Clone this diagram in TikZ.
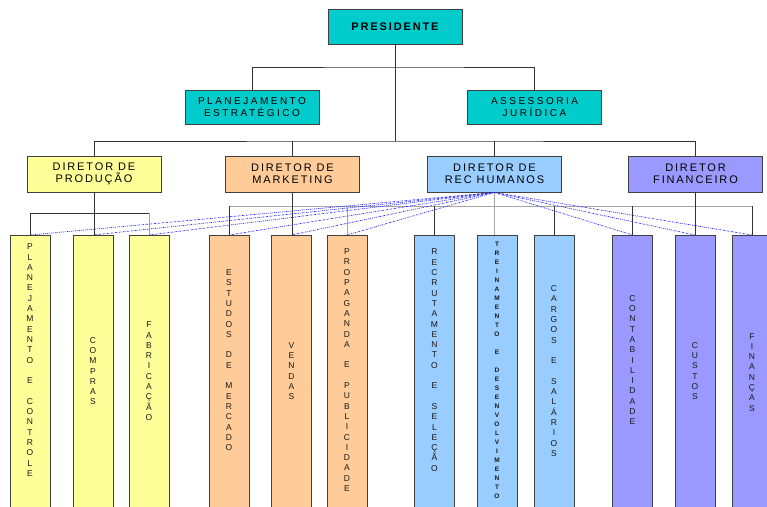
\documentclass[tikz,border=0pt]{standalone}
\usepackage{fontspec}
\setmainfont{Liberation Sans}
\newfontfamily\dirFont[LetterSpace=17]{Liberation Sans}
\newfontfamily\staffFont[LetterSpace=25]{Liberation Sans}
\definecolor{presCol}{RGB}{0,204,204}
\definecolor{prodCol}{RGB}{255,255,153}
\definecolor{mktCol}{RGB}{255,204,153}
\definecolor{rhCol}{RGB}{153,204,255}
\definecolor{finCol}{RGB}{153,153,255}
% letras empilhadas na vertical
\ExplSyntaxOn
\NewDocumentCommand\vtext{O{10.3pt}m}
  {
    \vbox
      {
        \offinterlineskip
        \str_map_inline:nn {#2}
          { \hbox_to_wd:nn {1em} { \hss \vrule height0.8\dimexpr#1\relax depth0.2\dimexpr#1\relax width0pt\relax ##1 \hss } }
      }
  }
\ExplSyntaxOff
\tikzset{
  box/.style={draw=black!75, line width=0.9pt, minimum width=134pt, minimum height=35pt, inner sep=0pt, align=center},
  dirbox/.style={box, minimum height=36pt, font=\dirFont\fontsize{11}{12}\selectfont},
  staffbox/.style={box, minimum height=34pt, fill=presCol, font=\staffFont\fontsize{10}{12.7}\selectfont},
  col/.style={draw=black!75, line width=0.9pt, minimum width=40pt, minimum height=275pt, anchor=north, inner sep=0pt},
  vt/.style={inner sep=0pt, text=black!90, font=\fontsize{8.5}{10}\selectfont},
  link/.style={draw=black!80, line width=0.8pt},
  faint/.style={draw=black!35, line width=0.9pt},
  rhlink/.style={draw=blue!85, line width=0.7pt, dash pattern=on 1.5pt off 1pt on 0.5pt off 1pt}
}
\begin{document}
\begin{tikzpicture}[x=1pt,y=-1pt]
\useasboundingbox (0,0) rectangle (767,506);
\clip (0,0) rectangle (767,506);
% topo
\node[box, fill=presCol, font=\dirFont\bfseries\fontsize{11}{12}\selectfont] (pres) at (395,26.5) {PRESIDENTE};
\node[staffbox] (plan) at (252,107) {PLANEJAMENTO\\ESTRATÉGICO};
\node[staffbox] (assess) at (534.5,107) {ASSESSORIA\\JURÍDICA};
% diretores
\node[dirbox, fill=prodCol] (dirP) at (94,174) {DIRETOR DE\\PRODUÇÃO};
\node[dirbox, fill=mktCol] (dirM) at (292.5,174) {DIRETOR DE\\MARKETING};
\node[dirbox, fill=rhCol] (dirRH) at (494.5,174) {DIRETOR DE\\REC HUMANOS};
\node[dirbox, fill=finCol] (dirF) at (695.5,174) {DIRETOR\\FINANCEIRO};
% colunas
\node[col, fill=prodCol] (planej) at (30,235) {};
\node[col, fill=prodCol] (compras) at (93,235) {};
\node[col, fill=prodCol] (fabric) at (149,235) {};
\node[col, fill=mktCol] (estudos) at (229,235) {};
\node[col, fill=mktCol] (vendas) at (291.5,235) {};
\node[col, fill=mktCol] (propag) at (347,235) {};
\node[col, fill=rhCol] (recrut) at (434.5,235) {};
\node[col, fill=rhCol] (trein) at (497,235) {};
\node[col, fill=rhCol] (cargos) at (554,235) {};
\node[col, fill=finCol] (contab) at (632.5,235) {};
\node[col, fill=finCol] (custos) at (695,235) {};
\node[col, fill=finCol] (financas) at (752,235) {};
\node[vt] (planej-t) at (30,360) {\vtext{PLANEJAMENTO E CONTROLE}};
\node[vt] (compras-t) at (93,371) {\vtext{COMPRAS}};
\node[vt] (fabric-t) at (149,371) {\vtext{FABRICAÇÃO}};
\node[vt] (estudos-t) at (229,360) {\vtext{ESTUDOS DE MERCADO}};
\node[vt] (vendas-t) at (291.5,371) {\vtext{VENDAS}};
\node[vt] (propag-t) at (347,370) {\vtext{PROPAGANDA E PUBLICIDADE}};
\node[vt] (recrut-t) at (434.5,360) {\vtext{RECRUTAMENTO E SELEÇÃO}};
\node[vt, font=\bfseries\fontsize{6.5}{9}\selectfont] (trein-t) at (497,370) {\vtext[9pt]{TREINAMENTO E DESENVOLVIMENTO}};
\node[vt] (cargos-t) at (554,371) {\vtext{CARGOS E SALÁRIOS}};
\node[vt] (contab-t) at (632.5,360) {\vtext{CONTABILIDADE}};
\node[vt] (custos-t) at (695,371) {\vtext{CUSTOS}};
\node[vt] (financas-t) at (752,372) {\vtext{FINANÇAS}};
% ligacoes
\coordinate (topBar) at (395,67);
\coordinate (bar) at (395,141);
\coordinate (prodBar) at (0,213);
\coordinate (subBar) at (0,206);
\draw[link] (plan.north) |- (topBar) -| (assess.north);
\draw[link] (pres.south) -- (bar);
\draw[link] (dirP.north) |- (bar) -| (dirF.north);
\draw[link] (dirM.north) -- (dirM.north |- bar);
\draw[link] (dirRH.north) -- (dirRH.north |- bar);
\draw[link] (dirP.south) -- (dirP.south |- compras.north);
\draw[link] (planej.north) |- (fabric.north |- prodBar);
\draw[faint] (fabric.north |- prodBar) -- (fabric.north);
\draw[faint] (estudos.north |- subBar) -- (financas.north |- subBar);
\draw[link] (estudos.north) -- (estudos.north |- subBar);
\draw[link] (dirM.south) -- (dirM.south |- vendas.north);
\draw[faint] (propag.north) -- (propag.north |- subBar);
\draw[link] (recrut.north) -- (recrut.north |- subBar);
\draw[faint] (dirRH.south) -- (dirRH.south |- trein.north);
\draw[link] (cargos.north) -- (cargos.north |- subBar);
\draw[link] (contab.north) -- (contab.north |- subBar);
\draw[link] (dirF.south) -- (dirF.south |- custos.north);
\draw[link] (financas.north) -- (financas.north |- subBar);
% linhas pontilhadas do RH
\foreach \t in {planej,compras,fabric,estudos,vendas,propag,contab,custos,financas}
  \draw[rhlink] (dirRH.south) -- (\t.north);
\end{tikzpicture}
\end{document}
